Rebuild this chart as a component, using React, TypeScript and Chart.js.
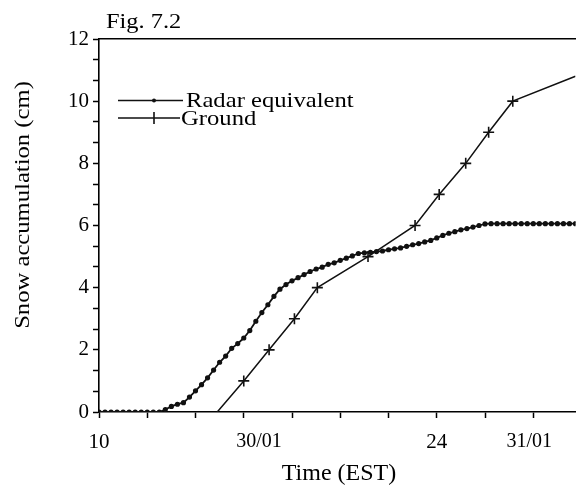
import React, { useEffect, useRef } from "react";
import { Chart, registerables } from "chart.js";

Chart.register(...registerables);

// ---------- data ----------
const radarTimes = [
  10, 10.25, 10.5, 10.75, 11, 11.25, 11.5, 11.75, 12, 12.25, 12.5, 12.75,
  13, 13.25, 13.5, 13.75, 14, 14.25, 14.5, 14.75, 15, 15.25, 15.5, 15.75,
  16, 16.25, 16.5, 16.75, 17, 17.25, 17.5, 17.75, 18, 18.25, 18.5, 18.75,
  19, 19.25, 19.5, 19.75, 20, 20.25, 20.5, 20.75, 21, 21.25, 21.5, 21.75,
  22, 22.25, 22.5, 22.75, 23, 23.25, 23.5, 23.75, 24, 24.25, 24.5, 24.75,
  25, 25.25, 25.5, 25.75, 26, 26.25, 26.5, 26.75, 27, 27.25, 27.5, 27.75,
  28, 28.25, 28.5, 28.75, 29, 29.25, 29.5, 29.75,
];
const radarValues = [
  0, 0, 0, 0, 0, 0, 0, 0, 0, 0, 0, 0.08,
  0.18, 0.25, 0.3, 0.48, 0.68, 0.88, 1.1, 1.35, 1.6, 1.8, 2.05, 2.2,
  2.38, 2.62, 2.92, 3.2, 3.45, 3.72, 3.95, 4.1, 4.22, 4.32, 4.42, 4.52,
  4.6, 4.66, 4.75, 4.8, 4.88, 4.95, 5.02, 5.1, 5.12, 5.14, 5.16, 5.18,
  5.22, 5.25, 5.28, 5.33, 5.38, 5.42, 5.47, 5.52, 5.6, 5.68, 5.75, 5.8,
  5.86, 5.9, 5.95, 6.0, 6.05, 6.06, 6.06, 6.06, 6.06, 6.06, 6.06, 6.06,
  6.06, 6.06, 6.06, 6.06, 6.06, 6.06, 6.06, 6.06,
];

const groundTimes = [14.9, 16.0, 17.05, 18.1, 19.05, 21.15, 23.1, 24.1, 25.2, 26.15, 27.15, 29.75];
const groundValues = [0, 1, 2, 3, 4, 5, 6, 7, 8, 9, 10, 10.8];
const groundMarkers = [0, 1, 1, 1, 1, 1, 1, 1, 1, 1, 1, 0];

const xMin = 10;
const xMax = 29.75;
const xMajorValues = [10, 24];
const xMajorLabels = ["10", "24"];
const xMinorValues = [12, 14, 16, 18, 20, 22, 26, 28];
const xDateValues = [16.63, 27.83];
const xDateLabels = ["30/01", "31/01"];

const yMajorValues = [0, 2, 4, 6, 8, 10, 12];
const yMajorLabels = ["0", "2", "4", "6", "8", "10", "12"];
const yMinorPerMajor = 3;

const seriesNames = ["Radar equivalent", "Ground"];
const figTitle = "Fig. 7.2";
const xTitle = "Time (EST)";
const yTitle = "Snow accumulation (cm)";

// ---------- layout / style ----------
const W = 579;
const H = 486;
const LEFT = 99;
const TOP = 39;
const BOTTOM = 412;
const SERIF = '"Liberation Serif", "Times New Roman", serif';

function isDate(v: number) {
  return xDateValues.some((d) => Math.abs(d - v) < 1e-6);
}

function drawStretched(
  ctx: CanvasRenderingContext2D,
  text: string,
  x: number,
  y: number,
  size: number,
  sx: number,
  align: CanvasTextAlign,
  rotate = 0
) {
  ctx.save();
  ctx.translate(x, y);
  if (rotate) ctx.rotate(rotate);
  ctx.scale(sx, 1);
  ctx.font = `${size}px ${SERIF}`;
  ctx.fillStyle = "#000";
  ctx.textAlign = align;
  ctx.textBaseline = rotate ? "middle" : "alphabetic";
  ctx.fillText(text, 0, 0);
  ctx.restore();
}

const textPlugin = {
  id: "textPlugin",
  afterDraw(chart: any) {
    const ctx = chart.ctx as CanvasRenderingContext2D;
    drawStretched(ctx, figTitle, 106, 28, 20, 1.22, "left");
    drawStretched(ctx, xTitle, (LEFT + W) / 2, 480, 24, 1.0, "center");
    drawStretched(ctx, yTitle, 23, 205, 22, 1.12, "center", -Math.PI / 2);

    // legend
    ctx.save();
    ctx.strokeStyle = "#111";
    ctx.lineWidth = 1.6;
    ctx.beginPath();
    ctx.moveTo(118, 100.5);
    ctx.lineTo(183, 100.5);
    ctx.stroke();
    ctx.fillStyle = "#111";
    ctx.beginPath();
    ctx.arc(154, 100.5, 2, 0, Math.PI * 2);
    ctx.fill();
    ctx.beginPath();
    ctx.moveTo(118, 118);
    ctx.lineTo(180, 118);
    ctx.moveTo(154, 112);
    ctx.lineTo(154, 124);
    ctx.stroke();
    ctx.restore();
    drawStretched(ctx, seriesNames[0], 186, 107, 22, 1.12, "left");
    drawStretched(ctx, seriesNames[1], 181, 125, 22, 1.12, "left");
  },
};

export default function App() {
  const ref = useRef<HTMLCanvasElement | null>(null);

  useEffect(() => {
    if (!ref.current) return;
    const radarData = radarTimes.map((t, i) => ({ x: t, y: radarValues[i] }));
    const groundData = groundTimes.map((t, i) => ({ x: t, y: groundValues[i] }));

    const yTicks: number[] = [];
    for (let i = 0; i < yMajorValues.length; i++) {
      const v = yMajorValues[i];
      yTicks.push(v);
      if (i < yMajorValues.length - 1) {
        const step = (yMajorValues[i + 1] - v) / yMinorPerMajor;
        for (let k = 1; k < yMinorPerMajor; k++) yTicks.push(v + step * k);
      }
    }
    const xTicks = [...xMajorValues, ...xMinorValues, ...xDateValues].sort((a, b) => a - b);

    const chart = new Chart(ref.current, {
      type: "line",
      data: {
        datasets: [
          {
            label: seriesNames[0],
            data: radarData,
            borderColor: "#111",
            backgroundColor: "#111",
            borderWidth: 1.8,
            pointRadius: 1.7,
            pointHoverRadius: 1.7,
            pointStyle: "circle",
            tension: 0,
            fill: false,
          },
          {
            label: seriesNames[1],
            data: groundData,
            borderColor: "#111",
            backgroundColor: "#111",
            borderWidth: 1.5,
            pointRadius: groundMarkers.map((m) => (m ? 5.5 : 0)),
            pointBorderWidth: 1.6,
            pointStyle: "cross",
            tension: 0,
            fill: false,
          },
        ],
      },
      options: {
        responsive: false,
        animation: false,
        layout: { padding: { left: 0, right: 0, top: TOP, bottom: 0 } },
        plugins: {
          legend: { display: false },
          tooltip: { enabled: false },
          title: { display: false },
        },
        scales: {
          x: {
            type: "linear",
            position: "bottom",
            min: xMin,
            max: xMax,
            afterBuildTicks: (scale: any) => {
              scale.ticks = xTicks.map((v) => ({ value: v }));
            },
            afterFit: (scale: any) => {
              scale.height = H - BOTTOM;
            },
            ticks: {
              autoSkip: false,
              maxRotation: 0,
              padding: 12,
              color: "#000",
              font: (c: any) => ({
                family: SERIF,
                size: c.tick && isDate(c.tick.value) ? 20 : 21,
              }),
              callback: (value: any) => {
                const v = Number(value);
                const di = xDateValues.findIndex((d) => Math.abs(d - v) < 1e-6);
                if (di >= 0) return xDateLabels[di];
                const mi = xMajorValues.indexOf(v);
                return mi >= 0 ? xMajorLabels[mi] : "";
              },
            },
            grid: {
              drawOnChartArea: false,
              drawTicks: true,
              tickLength: 6,
              tickWidth: 1.5,
              tickColor: (c: any) =>
                c.tick && isDate(c.tick.value) ? "rgba(0,0,0,0)" : "#000",
            },
            border: { display: true, color: "#000", width: 1.6 },
          },
          x2: {
            type: "linear",
            position: "top",
            min: xMin,
            max: xMax,
            afterFit: (scale: any) => {
              scale.height = 0;
            },
            ticks: { display: false },
            grid: { drawOnChartArea: false, drawTicks: false },
            border: { display: true, color: "#000", width: 1.6 },
          },
          y: {
            type: "linear",
            min: 0,
            max: 12,
            afterBuildTicks: (scale: any) => {
              scale.ticks = yTicks.map((v) => ({ value: v }));
            },
            afterFit: (scale: any) => {
              scale.width = LEFT;
            },
            ticks: {
              autoSkip: false,
              padding: 4,
              color: "#000",
              font: { family: SERIF, size: 21 },
              callback: (value: any) => {
                const v = Number(value);
                const mi = yMajorValues.findIndex((m) => Math.abs(m - v) < 1e-6);
                return mi >= 0 ? yMajorLabels[mi] : "";
              },
            },
            grid: {
              drawOnChartArea: false,
              drawTicks: true,
              tickLength: 6,
              tickWidth: 1.5,
              tickColor: "#000",
            },
            border: { display: true, color: "#000", width: 1.6 },
          },
        },
      },
      plugins: [textPlugin],
    } as any);

    return () => chart.destroy();
  }, []);

  return (
    <div style={{ position: "absolute", left: 0, top: 0, width: W, height: H, background: "#fff" }}>
      <canvas ref={ref} width={W} height={H} style={{ display: "block" }} />
    </div>
  );
}
